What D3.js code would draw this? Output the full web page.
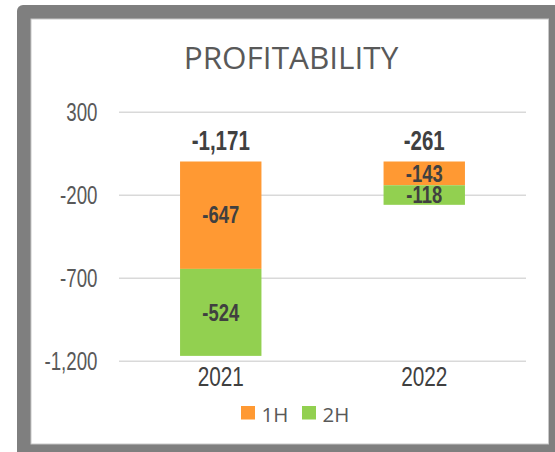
<!DOCTYPE html>
<html>
<head>
<meta charset="utf-8">
<script src="https://cdn.jsdelivr.net/npm/d3@7"></script>
<style>
  html, body { margin: 0; padding: 0; background: #fff; }
  svg { display: block; }
</style>
</head>
<body>
<div id="chart"></div>
<script>
const years = ['2021', '2022']
const firstHalf = [-647, -143]
const secondHalf = [-524, -118]
const totals = [-1171, -261]
const seriesNames = ['1H', '2H']
const yTicks = [300, -200, -700, -1200]

const width = 555, height = 452
const colors = {'1H': '#ff9933', '2H': '#92d050'}
const fmt = v => d3.format(',')(v).replace('\u2212', '-')

const svg = d3.select('#chart').append('svg')
  .attr('width', width)
  .attr('height', height)

// frame
svg.append('rect')
  .attr('x', 17).attr('y', 5)
  .attr('width', 560).attr('height', 470)
  .attr('rx', 6)
  .attr('fill', '#7f7f7f')
svg.append('rect')
  .attr('x', 31).attr('y', 19)
  .attr('width', 517.5).attr('height', 425)
  .attr('fill', '#fff')
  .attr('stroke', '#c8c8c8')
  .attr('stroke-width', 1)

// title
svg.append('text')
  .attr('x', 291).attr('y', 69)
  .attr('text-anchor', 'middle')
  .attr('font-family', 'Open Sans')
  .attr('font-size', 31.5)
  .attr('fill', '#595959')
  .text('PROFITABILITY')

const xScale = d3.scaleBand()
  .domain(years)
  .range([119, 526])
  .paddingInner(0.6)
  .paddingOuter(0.3)
const yScale = d3.scaleLinear()
  .domain([-1200, 300])
  .range([360.7, 111.7])

// narrow text helper (condensed look of the original)
function label(g, x, y, txt, size, sx, anchor, color, weight) {
  return g.append('text')
    .attr('transform', `translate(${x},${y}) scale(${sx},1)`)
    .attr('text-anchor', anchor)
    .attr('font-family', 'Liberation Sans, Arial, sans-serif')
    .attr('font-size', size)
    .attr('font-weight', weight || 'normal')
    .attr('fill', color)
    .text(txt)
}

// gridlines + y labels
const yAxis = d3.axisLeft(yScale)
  .tickValues(yTicks)
  .tickSize(-(526 - 119))
  .tickFormat('')
const ga = svg.append('g')
  .attr('transform', 'translate(119,0)')
  .call(yAxis)
ga.select('.domain').remove()
ga.selectAll('.tick line').attr('stroke', '#d9d9d9').attr('stroke-width', 1.5)

yTicks.forEach(t => {
  label(svg, 97.5, yScale(t) + 9.3, fmt(t), 26, 0.72, 'end', '#595959')
})

// stacked bars
const rows = years.map((y, i) => ({year: y, '1H': firstHalf[i], '2H': secondHalf[i], total: totals[i]}))
const bars = svg.append('g')
rows.forEach(r => {
  let base = 0
  seriesNames.forEach(s => {
    const top = base, bottom = base + r[s]
    const y0 = yScale(top), y1 = yScale(bottom)
    bars.append('rect')
      .attr('x', xScale(r.year))
      .attr('y', y0)
      .attr('width', xScale.bandwidth())
      .attr('height', y1 - y0)
      .attr('fill', colors[s])
    label(svg, xScale(r.year) + xScale.bandwidth() / 2, (y0 + y1) / 2 + 8.2,
      fmt(r[s]), 23, 0.8, 'middle', '#404040', 'bold')
    base = bottom
  })
  label(svg, xScale(r.year) + xScale.bandwidth() / 2, yScale(0) - 11.5,
    fmt(r.total), 27, 0.76, 'middle', '#404040', 'bold')
})

// x labels
years.forEach(y => {
  label(svg, xScale(y) + xScale.bandwidth() / 2, 386, y, 27, 0.77, 'middle', '#404040')
})

// legend
const legendX = [241, 302]
seriesNames.forEach((s, i) => {
  svg.append('rect')
    .attr('x', legendX[i]).attr('y', 406)
    .attr('width', 14).attr('height', 13.5)
    .attr('fill', colors[s])
  svg.append('text')
    .attr('x', legendX[i] + 20.5).attr('y', 421.5)
    .attr('font-family', 'Open Sans')
    .attr('font-size', 20.5)
    .attr('fill', '#595959')
    .text(s)
})
</script>
</body>
</html>
